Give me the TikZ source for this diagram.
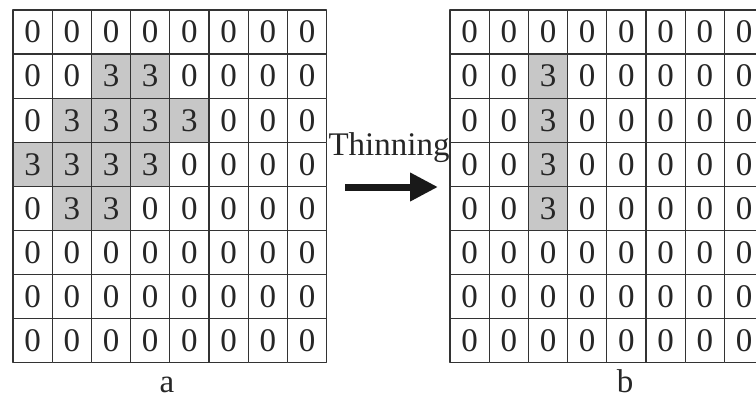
\documentclass[tikz,border=0pt]{standalone}
\usepackage{fontspec}
\setmainfont{Liberation Serif}
\usetikzlibrary{arrows.meta}
\begin{document}
\begin{tikzpicture}[x=1pt,y=-1pt,font=\fontsize{33}{36}\selectfont,line join=round,
	cell/.style={draw=black!80,line width=1.3pt,minimum width=39.2pt,minimum height=44.1pt,inner sep=0pt,text=black!85},
	cell0/.style={cell,fill=white},
	cell3/.style={cell,fill=black!22}]
	\useasboundingbox (0,0) rectangle (756,397);
	\def\W{39.2} \def\H{44.1} % kich thuoc o
	% luoi a
	\foreach \row [count=\r] in {{0,0,0,0,0,0,0,0},{0,0,3,3,0,0,0,0},{0,3,3,3,3,0,0,0},{3,3,3,3,0,0,0,0},{0,3,3,0,0,0,0,0},{0,0,0,0,0,0,0,0},{0,0,0,0,0,0,0,0},{0,0,0,0,0,0,0,0}}
		\foreach \v [count=\c] in \row
			\node[cell\v] (a-\r-\c) at ({13+(\c-0.5)*\W},{10+(\r-0.5)*\H}) {\v};
	% luoi b
	\foreach \row [count=\r] in {{0,0,0,0,0,0,0,0},{0,0,3,0,0,0,0,0},{0,0,3,0,0,0,0,0},{0,0,3,0,0,0,0,0},{0,0,3,0,0,0,0,0},{0,0,0,0,0,0,0,0},{0,0,0,0,0,0,0,0},{0,0,0,0,0,0,0,0}}
		\foreach \v [count=\c] in \row
			\node[cell\v] (b-\r-\c) at ({450+(\c-0.5)*\W},{10+(\r-0.5)*\H}) {\v};
	\node[anchor=base,text=black!85] (thin) at (389,155) {Thinning};
	\coordinate (p) at (345,187); \coordinate (q) at (438,187);
	\draw[line width=7pt,black!90,-{Triangle[width=27pt,length=28pt]}] (p)--(q);
	\node[anchor=base,inner sep=0pt,text=black!85] (la) at (167,392) {a};
	\node[anchor=base,inner sep=0pt,text=black!85] (lb) at (625,392) {b};
\end{tikzpicture}
\end{document}
